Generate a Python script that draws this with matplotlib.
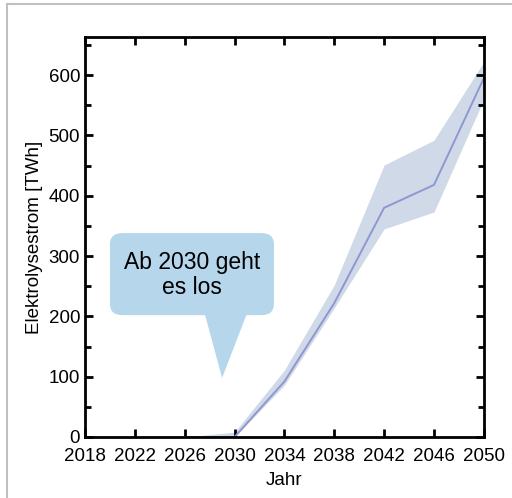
import matplotlib
matplotlib.use("Agg")
import matplotlib.pyplot as plt
from matplotlib.patches import FancyBboxPatch, Polygon
from matplotlib.lines import Line2D
from matplotlib.ticker import MultipleLocator

plt.rcParams['font.family'] = ['Liberation Sans', 'DejaVu Sans']

years = [2018, 2022, 2026, 2030, 2034, 2038, 2042, 2046, 2050]
strom_mid = [0, 0, 0, 0, 92, 222, 380, 418, 595]
strom_low = [0, 0, 0, 0, 86, 214, 345, 373, 560]
strom_high = [0, 0, 0, 8, 111, 252, 451, 492, 622]
band_years = [2026, 2030, 2034, 2038, 2042, 2046, 2050]
x_ticks = [2018, 2022, 2026, 2030, 2034, 2038, 2042, 2046, 2050]
y_ticks = [0, 100, 200, 300, 400, 500, 600]
callout_text = "Ab 2030 geht\nes los"

fig = plt.figure(figsize=(5.12, 4.98), dpi=100)
ax = fig.add_axes([0.166, 0.1225, 0.779, 0.803])

i0 = years.index(band_years[0])
ax.fill_between(years[i0:], strom_low[i0:], strom_high[i0:], color='#d0d9e8', lw=0, zorder=1)
ax.plot(years[i0:], strom_mid[i0:], color='#8f97d0', lw=1.4, zorder=2)

ax.set_xlim(2018, 2050)
ax.set_ylim(0, 663)
ax.set_xticks(x_ticks)
ax.set_yticks(y_ticks)
ax.yaxis.set_minor_locator(MultipleLocator(50))
ax.tick_params(which='both', direction='in', top=True, right=True, width=2, labelsize=13.5, colors='black')
ax.tick_params(which='major', length=6)
ax.tick_params(which='minor', length=4)
ax.tick_params(axis='x', pad=8)
ax.tick_params(axis='y', pad=3.5)
for s in ax.spines.values():
    s.set_linewidth(2)
ax.set_xlabel("Jahr", fontsize=13.5, labelpad=5)
ax.set_ylabel("Elektrolysestrom [TWh]", fontsize=13.5, labelpad=4)

# callout bubble (axes-data coordinates)
bubble_color = '#b5d6eb'
box = FancyBboxPatch((2020.0, 202), 13.16, 136, boxstyle="round,pad=0,rounding_size=1.0",
                     mutation_aspect=19, facecolor=bubble_color, edgecolor='none', zorder=3)
ax.add_patch(box)
tri = Polygon([(2027.6, 205), (2031.0, 205), (2029.0, 98)], closed=True,
              facecolor=bubble_color, edgecolor='none', zorder=3)
ax.add_patch(tri)
ax.text(2026.6, 269, callout_text, ha='center', va='center', fontsize=16.5, zorder=4, linespacing=1.12)

# figure frame lines (top and left)
fig.add_artist(Line2D([7/512, 1], [1 - 4/498, 1 - 4/498], color='#c0c0c0', lw=1.5))
fig.add_artist(Line2D([7/512, 7/512], [0, 1 - 4/498], color='#c0c0c0', lw=1.5))

fig.savefig("out.png", dpi=100)
